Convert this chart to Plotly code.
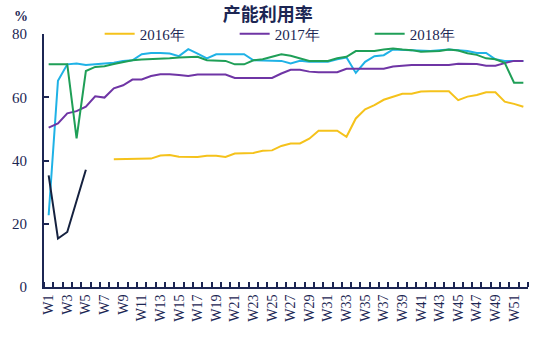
import plotly.graph_objects as go

weeks = [f"W{i}" for i in range(1, 53)]

# 2016: first reading from W8
cap_2016 = [None] * 7 + [
    40.4, 40.4, 40.4, 40.4, 40.6, 41.6, 41.7, 41.2, 41.1, 41.1,
    41.5, 41.5, 41.1, 42.2, 42.3, 42.4, 43.1, 43.2, 44.6, 45.4,
    45.4, 46.9, 49.4, 49.4, 49.4, 47.5, 53.3, 56.2, 57.5, 59.2,
    60.2, 61.1, 61.1, 61.8, 61.9, 61.9, 61.9, 59.1, 60.2, 60.7,
    61.6, 61.6, 58.6, 57.9, 57.0,
]
cap_2017 = [
    50.4, 51.7, 54.9, 55.6, 57.0, 60.3, 59.9, 62.8, 63.8, 65.6,
    65.6, 66.7, 67.3, 67.3, 67.0, 66.7, 67.2, 67.2, 67.2, 67.2,
    66.1, 66.1, 66.1, 66.1, 66.1, 67.5, 68.7, 68.7, 68.1, 67.9,
    67.9, 67.9, 69.0, 69.0, 69.0, 69.0, 69.0, 69.7, 70.0, 70.2,
    70.2, 70.2, 70.2, 70.2, 70.6, 70.6, 70.5, 70.0, 70.0, 70.8,
    71.5, 71.5,
]
cap_2018 = [
    70.4, 70.4, 70.4, 47.0, 68.3, 69.6, 69.8, 70.5, 71.1, 71.7,
    71.9, 72.0, 72.2, 72.3, 72.6, 72.8, 72.8, 71.7, 71.7, 71.5,
    70.4, 70.4, 71.7, 72.0, 72.8, 73.6, 73.1, 72.3, 71.5, 71.5,
    71.5, 72.3, 72.8, 74.6, 74.6, 74.6, 75.1, 75.4, 75.1, 74.9,
    74.4, 74.4, 74.6, 75.1, 74.8, 73.9, 73.4, 72.3, 72.0, 70.9,
    64.6, 64.6,
]
cap_2019 = [
    22.7, 65.2, 70.4, 70.7, 70.2, 70.5, 70.7, 70.9, 71.5, 71.7,
    73.6, 74.0, 74.0, 73.8, 73.0, 75.2, 73.8, 72.3, 73.6, 73.6,
    73.6, 73.6, 71.7, 71.7, 71.7, 71.5, 70.7, 71.5, 71.2, 71.2,
    71.2, 72.0, 72.6, 67.7, 71.2, 73.0, 73.3, 75.1, 75.0, 74.9,
    74.6, 74.6, 74.9, 75.1, 74.9, 74.6, 74.0, 74.0, 72.0, 71.5,
    71.5, 71.5,
]
cap_2020 = [35.3, 15.3, 17.4, 27.5, 37.1] + [None] * 47

ink = "#1c2653"
serif = "Liberation Serif"
pos = list(range(1, 53))

# (name, values, colour, in legend, legend rank)
series = [
    ("2019年", cap_2019, "#1fb2e6", False, 9),
    ("2017年", cap_2017, "#6f35a5", True, 2),
    ("2018年", cap_2018, "#1f9f57", True, 3),
    ("2016年", cap_2016, "#f5c21b", True, 1),
    ("2020年", cap_2020, "#15213f", False, 9),
]

fig = go.Figure()
for name, vals, color, show, rank in series:
    fig.add_trace(go.Scatter(
        x=pos, y=vals, name=name, mode="lines",
        line=dict(color=color, width=2),
        showlegend=show, legendrank=rank, connectgaps=False,
    ))

fig.update_layout(
    width=550, height=337,
    margin=dict(l=44, r=22, t=34, b=50),
    paper_bgcolor="white", plot_bgcolor="white",
    title=dict(text="<b>产能利用率</b>", x=0.487, xanchor="center", y=0.955, yanchor="middle",
               font=dict(family="Noto Sans CJK SC", size=18, color=ink)),
    legend=dict(orientation="h", x=0.115, xanchor="left", y=1.0, yanchor="middle",
                traceorder="normal", bgcolor="rgba(0,0,0,0)",
                font=dict(family=serif, size=15, color=ink),
                entrywidth=90, entrywidthmode="pixels"),
    showlegend=True,
)

fig.update_xaxes(
    range=[0.5, 52.5], tickmode="array",
    tickvals=pos[::2], ticktext=weeks[::2], tickangle=-90,
    ticks="", showgrid=False, zeroline=False,
    showline=True, linecolor=ink, linewidth=2,
    tickfont=dict(family=serif, size=14, color=ink),
    minor=dict(ticks="inside", tick0=0.5, dtick=1, ticklen=5, tickcolor=ink, tickwidth=1.5, showgrid=False),
)
fig.update_yaxes(
    range=[0, 80], tickvals=[0, 20, 40, 60, 80],
    ticks="inside", ticklen=5, tickcolor=ink, tickwidth=1.5,
    showgrid=False, zeroline=False,
    showline=True, linecolor=ink, linewidth=2,
    tickfont=dict(family=serif, size=15, color=ink),
    ticklabelstandoff=12,
)

fig.add_annotation(text="<b>%</b>", xref="paper", yref="paper", x=-0.048, y=1.07,
                   xanchor="center", yanchor="middle", showarrow=False,
                   font=dict(family=serif, size=14, color=ink))

fig.write_html("out.html")
